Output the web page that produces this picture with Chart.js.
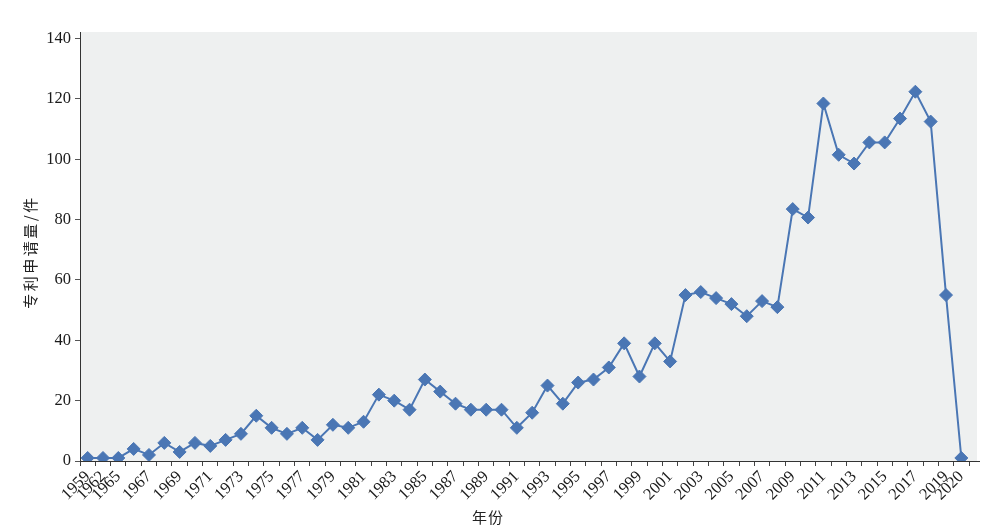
<!DOCTYPE html>
<html>
<head>
<meta charset="utf-8">
<script src="https://cdn.jsdelivr.net/npm/chart.js@4"></script>
<style>
  html, body { margin: 0; padding: 0; background: #ffffff; }
  #wrap { width: 1000px; height: 531px; position: relative; }
</style>
</head>
<body>
<div id="wrap"><canvas id="c"></canvas></div>
<script>
const years = [1959, 1962, 1965, 1966, 1967, 1968, 1969, 1970, 1971, 1972, 1973, 1974, 1975, 1976, 1977, 1978, 1979, 1980,
  1981, 1982, 1983, 1984, 1985, 1986, 1987, 1988, 1989, 1990, 1991, 1992, 1993, 1994, 1995, 1996, 1997, 1998, 1999, 2000,
  2001, 2002, 2003, 2004, 2005, 2006, 2007, 2008, 2009, 2010, 2011, 2012, 2013, 2014, 2015, 2016, 2017, 2018, 2019, 2020];
const patents = [1, 1, 1, 4, 2, 6, 3, 6, 5, 7, 9, 15, 11, 9, 11, 7, 12, 11,
  13, 22, 20, 17, 27, 23, 19, 17, 17, 17, 11, 16, 25, 19, 26, 27, 31, 39, 28, 39,
  33, 55, 56, 54, 52, 48, 53, 51, 83.5, 80.7, 118.5, 101.5, 98.6, 105.6, 105.6, 113.5, 122.4, 112.5, 55, 1];
const xTickLabels = [1959, 1962, 1965, 1967, 1969, 1971, 1973, 1975, 1977, 1979, 1981, 1983, 1985, 1987, 1989, 1991,
  1993, 1995, 1997, 1999, 2001, 2003, 2005, 2007, 2009, 2011, 2013, 2015, 2017, 2019, 2020];
const yTickValues = [0, 20, 40, 60, 80, 100, 120, 140];
const xTitle = '年份';
const yTitle = '专利申请量/件';

const EXTRA_RIGHT = 8;

const decor = {
  id: 'decor',
  beforeDraw(chart) {
    const { ctx, chartArea: a } = chart;
    ctx.save();
    ctx.fillStyle = '#eef0f0';
    ctx.fillRect(a.left, a.top, a.right - a.left + EXTRA_RIGHT, a.bottom - a.top);
    ctx.restore();
  },
  afterDraw(chart) {
    const { ctx, chartArea: a } = chart;
    ctx.save();
    ctx.strokeStyle = '#333333';
    ctx.lineWidth = 1;
    ctx.beginPath();
    ctx.moveTo(a.left, Math.round(a.bottom) + 0.5);
    ctx.lineTo(a.right + EXTRA_RIGHT + 3, Math.round(a.bottom) + 0.5);
    ctx.stroke();
    ctx.fillStyle = '#222222';
    ctx.font = '15px "Noto Sans CJK SC"';
    ctx.textAlign = 'center';
    ctx.textBaseline = 'middle';
    ctx.letterSpacing = '1px';
    ctx.fillText(xTitle, 488, 517);
    ctx.letterSpacing = '2.5px';
    ctx.translate(30, 252);
    ctx.rotate(-Math.PI / 2);
    ctx.fillText(yTitle, 0, 0);
    ctx.restore();
  }
};

new Chart(document.getElementById('c'), {
  type: 'line',
  data: {
    labels: years.map(String),
    datasets: [{
      data: patents,
      borderColor: '#4a76b4',
      backgroundColor: '#4a76b4',
      borderWidth: 2,
      pointStyle: 'rectRot',
      pointRadius: 6.5,
      pointHoverRadius: 6.5,
      pointBorderWidth: 1,
      pointBorderColor: '#4a76b4',
      pointBackgroundColor: '#4a76b4',
      tension: 0,
      fill: false
    }]
  },
  options: {
    responsive: true,
    maintainAspectRatio: false,
    animation: false,
    devicePixelRatio: 1,
    layout: { padding: { top: 32, right: 31, left: 0, bottom: 0 } },
    plugins: { legend: { display: false }, tooltip: { enabled: false }, title: { display: false } },
    scales: {
      x: {
        type: 'category',
        offset: true,
        grid: { display: true, offset: true, drawOnChartArea: false, drawTicks: true, tickLength: 5, color: '#444444' },
        border: { display: false },
        ticks: {
          autoSkip: false,
          maxRotation: 45,
          minRotation: 45,
          padding: 1,
          color: '#1a1a1a',
          font: { family: '"Liberation Serif"', size: 16.5 },
          callback(value, index) {
            const y = years[index];
            return xTickLabels.includes(y) ? String(y) : '';
          }
        },
        afterFit(scale) { scale.height = 70; }
      },
      y: {
        min: 0,
        max: 142.2,
        grid: { display: true, drawOnChartArea: false, drawTicks: true, tickLength: 5, color: '#555555' },
        border: { display: true, color: '#333333', width: 1 },
        afterBuildTicks(scale) { scale.ticks = yTickValues.map(v => ({ value: v })); },
        ticks: {
          stepSize: 20,
          includeBounds: false,
          padding: 4,
          color: '#1a1a1a',
          font: { family: '"Liberation Serif"', size: 16.5 }
        },
        afterFit(scale) { scale.width = 80; }
      }
    }
  },
  plugins: [decor]
});
</script>
</body>
</html>
